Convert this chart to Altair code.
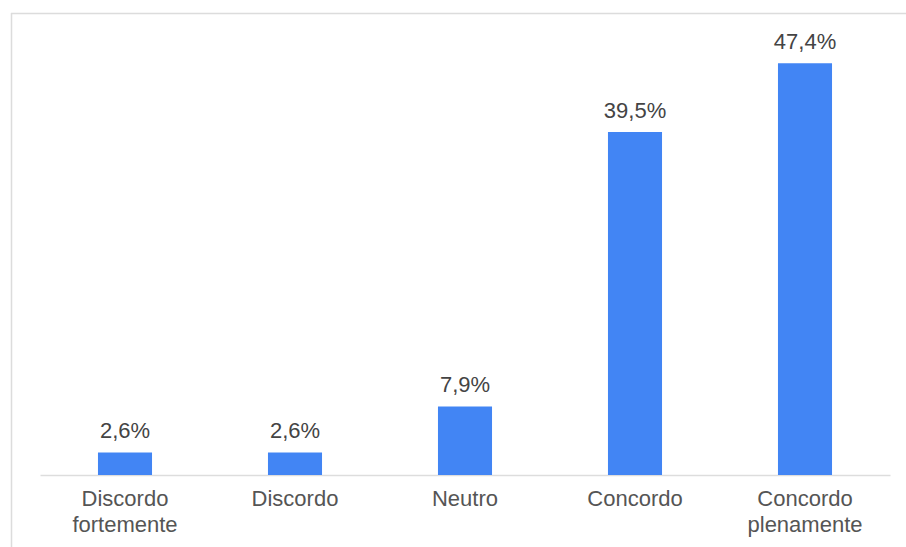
import altair as alt
import pandas as pd

categories = ["Discordo fortemente", "Discordo", "Neutro", "Concordo", "Concordo plenamente"]
values = [2.6, 2.6, 7.9, 39.5, 47.4]

df = pd.DataFrame({"cat": categories, "v": values})

FONT = "Liberation Sans"

x_enc = alt.X(
    "cat:N",
    sort=categories,
    scale=alt.Scale(paddingInner=0.682, paddingOuter=0.341),
    axis=alt.Axis(
        title=None,
        labelAngle=0,
        ticks=False,
        labelFont=FONT,
        labelFontSize=22,
        labelColor="#555555",
        labelPadding=13,
        labelLineHeight=26,
        labelExpr="split(datum.label, ' ')",
        domainColor="#dddddd",
        domainWidth=1.5,
    ),
)
y_enc = alt.Y("v:Q", scale=alt.Scale(domain=[0, 53.2], nice=False), axis=None)

base = alt.Chart(df)

bars = base.mark_bar(color="#4285F4").encode(x=x_enc, y=y_enc)

labels = (
    base.transform_calculate(lbl="replace(format(datum.v, '.1f'), '.', ',') + '%'")
    .mark_text(baseline="alphabetic", dy=-14, font=FONT, fontSize=22, color="#444444")
    .encode(x=x_enc, y=y_enc, text="lbl:N")
)

frame_df = pd.DataFrame({"a": [0]})
top_line = alt.Chart(frame_df).mark_rule(color="#dcdcdc", strokeWidth=1.5).encode(
    x=alt.value(-29), x2=alt.value(866), y=alt.value(0.5)
)
left_line = alt.Chart(frame_df).mark_rule(color="#dcdcdc", strokeWidth=1.5).encode(
    x=alt.value(-28.5), y=alt.value(0), y2=alt.value(534)
)

chart = (
    alt.layer(top_line, left_line, bars, labels)
    .properties(
        width=850,
        height=462,
        autosize=alt.AutoSizeParams(type="none"),
        padding={"left": 40, "top": 13, "right": 16, "bottom": 72},
        background="white",
    )
    .configure_view(stroke=None)
)

chart.save("out.html", embed_options={"renderer": "svg", "actions": False})
